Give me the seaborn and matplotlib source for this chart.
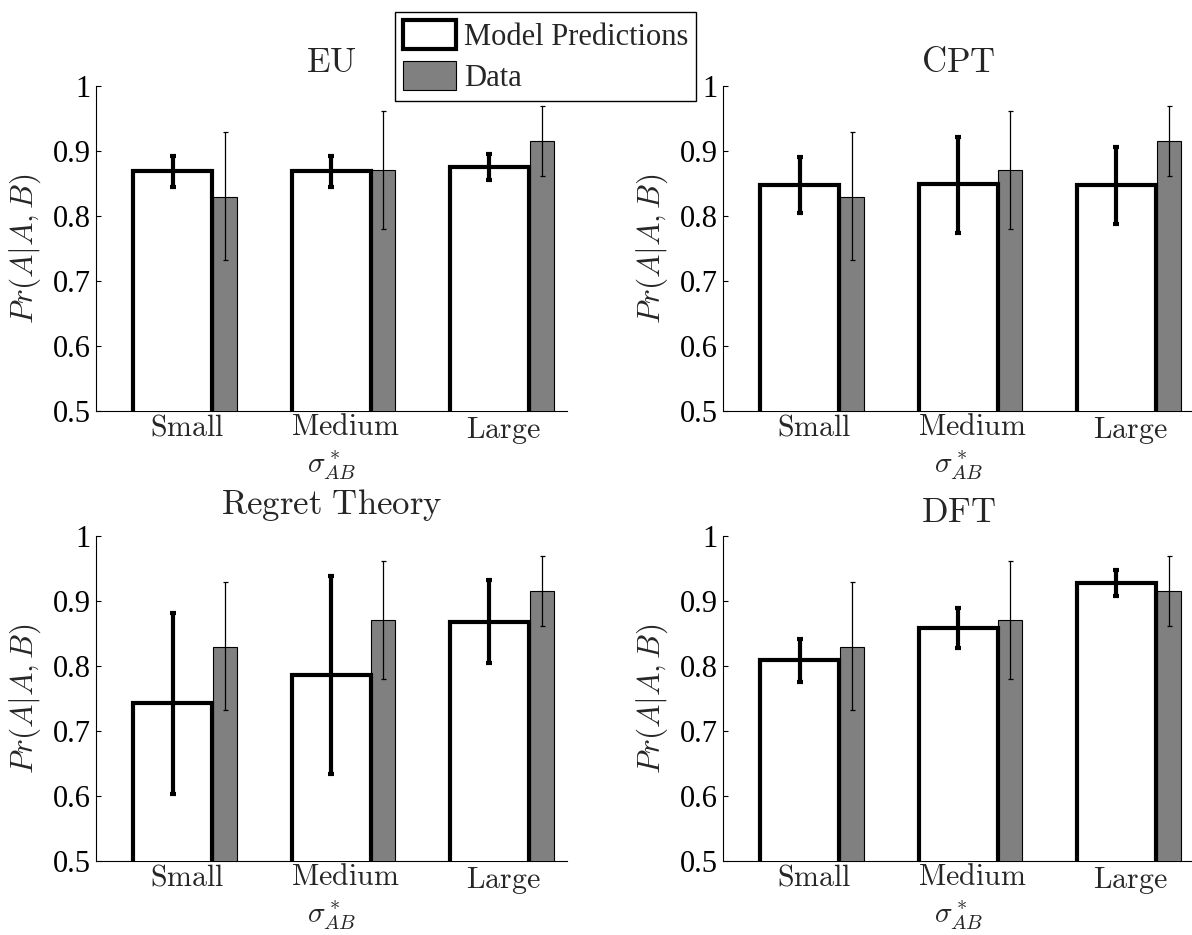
import numpy as np
import matplotlib
matplotlib.use("Agg")
import matplotlib.pyplot as plt
import seaborn as sns
from matplotlib.patches import Patch

# ---------------- data ----------------
categories = ["Small", "Medium", "Large"]
panel_titles = ["EU", "CPT", "Regret Theory", "DFT"]

data_mean = [0.830, 0.871, 0.916]
data_lo = [0.732, 0.780, 0.862]
data_hi = [0.929, 0.961, 0.969]

eu_mean = [0.869, 0.869, 0.876]
eu_lo = [0.845, 0.845, 0.856]
eu_hi = [0.893, 0.892, 0.895]

cpt_mean = [0.848, 0.850, 0.848]
cpt_lo = [0.805, 0.774, 0.788]
cpt_hi = [0.891, 0.922, 0.906]

regret_mean = [0.743, 0.786, 0.868]
regret_lo = [0.603, 0.634, 0.804]
regret_hi = [0.882, 0.939, 0.933]

dft_mean = [0.809, 0.858, 0.928]
dft_lo = [0.775, 0.827, 0.908]
dft_hi = [0.842, 0.889, 0.947]

y_ticks = [0.5, 0.6, 0.7, 0.8, 0.9, 1.0]
y_ticklabels = ["0.5", "0.6", "0.7", "0.8", "0.9", "1"]

model_series = [
    (eu_mean, eu_lo, eu_hi),
    (cpt_mean, cpt_lo, cpt_hi),
    (regret_mean, regret_lo, regret_hi),
    (dft_mean, dft_lo, dft_hi),
]

# ---------------- style ----------------
sns.set_style("ticks")
plt.rcParams.update({
    "font.family": ["Liberation Serif", "DejaVu Serif"],
    "mathtext.fontset": "cm",
    "axes.linewidth": 0.8,
    "axes.edgecolor": "black",
    "ytick.direction": "in",
    "ytick.major.size": 3.5,
    "ytick.major.width": 0.8,
    "ytick.color": "black",
})

W, H = 1192, 935
fig = plt.figure(figsize=(W / 100, H / 100), dpi=100)

col_x = [96 / W, 723 / W]
row_y = [1 - 411 / H, 1 - 861 / H]
aw, ah = 471 / W, 325 / H
title_pads = [10, 10, 16, 10]

x = np.arange(1, len(categories) + 1)
data_offset = 0.33

for k, (title, (m_mean, m_lo, m_hi)) in enumerate(zip(panel_titles, model_series)):
    r, c = divmod(k, 2)
    ax = fig.add_axes([col_x[c], row_y[r], aw, ah])

    sns.barplot(x=x + data_offset, y=data_mean, native_scale=True, orient="x",
                width=0.15, color="#808080", saturation=1, edgecolor="black",
                linewidth=0.8, errorbar=None, ax=ax, zorder=3)
    sns.barplot(x=x, y=m_mean, native_scale=True, orient="x",
                width=0.5, color="white", saturation=1, edgecolor="black",
                linewidth=3.0, errorbar=None, ax=ax, zorder=4)

    mm = np.array(m_mean)
    ax.errorbar(x, mm, yerr=[mm - np.array(m_lo), np.array(m_hi) - mm],
                fmt="none", ecolor="black", elinewidth=3.0, capsize=2.2,
                capthick=3.0, zorder=6)
    dm = np.array(data_mean)
    ax.errorbar(x + data_offset, dm, yerr=[dm - np.array(data_lo), np.array(data_hi) - dm],
                fmt="none", ecolor="black", elinewidth=0.9, capsize=1.8,
                capthick=0.9, zorder=6)

    ax.set_xlim(0.515, 3.49)
    ax.set_ylim(0.5, 1.0)
    ax.set_yticks(y_ticks)
    ax.set_yticklabels(y_ticklabels, fontsize=22)
    ax.set_xticks(x + 0.09)
    ax.set_xticklabels([r"$\mathrm{%s}$" % cat for cat in categories], fontsize=21.5)
    ax.tick_params(axis="x", length=0, pad=3)
    ax.tick_params(axis="y", pad=4)
    sns.despine(ax=ax)

    ax.set_title(r"$\mathrm{%s}$" % title.replace(" ", r"\ "), fontsize=25,
                 pad=title_pads[k])
    ax.set_ylabel(r"$Pr(A|A,B)$", fontsize=22.5)
    ax.yaxis.set_label_coords(-0.113, 0.5)
    ax.set_xlabel(r"$\sigma^*_{AB}$", fontsize=21)
    ax.xaxis.set_label_coords(0.5, -0.118)

handles = [
    Patch(facecolor="white", edgecolor="black", linewidth=3.0),
    Patch(facecolor="#808080", edgecolor="black", linewidth=0.8),
]
leg = fig.legend(handles, ["Model Predictions", "Data"], loc="upper left",
                 bbox_to_anchor=(395 / W, 1 - 12 / H), frameon=True,
                 fancybox=False, edgecolor="black", framealpha=1, fontsize=22,
                 handlelength=1.75, handleheight=1.1, handletextpad=0.25,
                 borderpad=0.25, labelspacing=0.3, borderaxespad=0)
leg.get_frame().set_linewidth(1.0)

fig.savefig("out.png", dpi=100)
